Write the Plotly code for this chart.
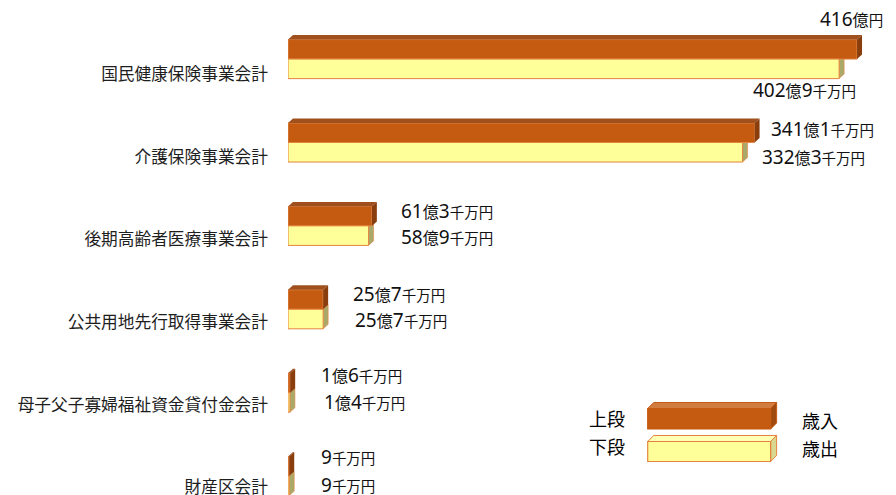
import plotly.graph_objects as go

# ---- data (億円) ----
categories = ["国民健康保険事業会計", "介護保険事業会計", "後期高齢者医療事業会計",
              "公共用地先行取得事業会計", "母子父子寡婦福祉資金貸付金会計", "財産区会計"]
revenue = [416.0, 341.1, 61.3, 25.7, 1.6, 0.9]      # 歳入 (上段)
expenditure = [402.9, 332.3, 58.9, 25.7, 1.4, 0.9]  # 歳出 (下段)
legend_pos = ["上段", "下段"]
legend_names = ["歳入", "歳出"]

# ---- style ----
OFF = 8                      # page body margin
W, H = 896 - OFF, 495 - OFF
ML = 287.5 - OFF
PX_PER_UNIT_X = 1.369
UNIT_Y = 83.4
Y0_PX = 59.1 - OFF
BAR_H = 0.234
DX = 5 / PX_PER_UNIT_X      # depth in x data units
DY = 4.5 / UNIT_Y           # depth in y data units

ORANGE = "#C55A11"
ORANGE_LINE = "#E4884A"
ORANGE_TOP = "#A0501C"
ORANGE_SIDE = "#8A3E0E"
YELLOW = "#FFFF99"
YELLOW_LINE = "#E5843F"
YELLOW_SIDE = "#A9AA6A"
TEXT = "#111111"
FONT = "Noto Sans, Noto Sans CJK JP"

idx = list(range(len(categories)))

fig = go.Figure()
fig.add_trace(go.Bar(
    y=idx, x=revenue, orientation="h", width=BAR_H, offset=-BAR_H,
    marker=dict(color=ORANGE, line=dict(color=ORANGE_LINE, width=1)),
    name="歳入", hoverinfo="x"))
fig.add_trace(go.Bar(
    y=idx, x=expenditure, orientation="h", width=BAR_H, offset=0,
    marker=dict(color=YELLOW, line=dict(color=YELLOW_LINE, width=1)),
    name="歳出", hoverinfo="x"))

shapes = []
for i, (r, e) in enumerate(zip(revenue, expenditure)):
    # yellow side face (under traces)
    yt, yb = i, i + BAR_H
    shapes.append(dict(type="path", xref="x", yref="y", layer="below",
        path=f"M{e},{yt} L{e+DX},{yt-DY} L{e+DX},{yb-DY} L{e},{yb} Z",
        fillcolor=YELLOW_SIDE, line=dict(color=YELLOW_LINE, width=0.6)))
    # orange top + side
    yt, yb = i - BAR_H, i
    shapes.append(dict(type="path", xref="x", yref="y", layer="above",
        path=f"M0,{yt} L{DX},{yt-DY} L{r+DX},{yt-DY} L{r},{yt} Z",
        fillcolor=ORANGE_TOP, line=dict(width=0)))
    shapes.append(dict(type="path", xref="x", yref="y", layer="above",
        path=f"M{r},{yt} L{r+DX},{yt-DY} L{r+DX},{yb-DY} L{r},{yb} Z",
        fillcolor=ORANGE_SIDE, line=dict(width=0)))


def fmt(v):
    oku = int(v)
    sen = int(round((v - oku) * 10))
    s = ""
    if oku > 0:
        s += f"{oku}<span style='font-size:16px'>億</span>"
    if sen > 0:
        s += f"{sen}<span style='font-size:14.5px'>千万円</span>"
    else:
        s += "<span style='font-size:14.5px'>円</span>"
    return s


annotations = []
# offsets (px) per category for labels
rev_xshift = [28, 14, 27, 28, 29, 30]
exp_xshift = [19, 17, 30, 30, 32, 30]
rev_yshift = [30, 4, 5, 6, 8, 9]
exp_yshift = [-21, -5, -1, -1, 0, 1]
for i, (r, e) in enumerate(zip(revenue, expenditure)):
    annotations.append(dict(
        x=r, y=i - BAR_H / 2, xref="x", yref="y", text=fmt(r), showarrow=False,
        xanchor="right" if i == 0 else "left", xshift=rev_xshift[i], yshift=rev_yshift[i],
        font=dict(family=FONT, size=19, color=TEXT)))
    annotations.append(dict(
        x=e, y=i + BAR_H / 2, xref="x", yref="y", text=fmt(e), showarrow=False,
        xanchor="right" if i == 0 else "left", xshift=exp_xshift[i], yshift=exp_yshift[i],
        font=dict(family=FONT, size=19, color=TEXT)))


# ---- custom legend (paper coords; inputs are screenshot pixels) ----
def px(xp):
    return (xp - OFF - ML) / (W - ML)


def py(yp):
    return 1 - (yp - OFF) / H


box_x0, box_x1, skew = 647.5, 770.5, 6
legend_boxes = [
    (408.5, 429.0, ORANGE, "#D17D40", "#A04A10", ORANGE),
    (441.5, 461.5, YELLOW, "#FFFFB5", "#D8D890", YELLOW_LINE),
]
for (y0, y1, front, top, side, lc) in legend_boxes:
    shapes.append(dict(type="path", xref="paper", yref="paper",
        path=(f"M{px(box_x0)},{py(y0)} L{px(box_x0+skew)},{py(y0-skew)} "
              f"L{px(box_x1+skew)},{py(y0-skew)} L{px(box_x1)},{py(y0)} Z"),
        fillcolor=top, line=dict(color=lc, width=1)))
    shapes.append(dict(type="path", xref="paper", yref="paper",
        path=(f"M{px(box_x1)},{py(y0)} L{px(box_x1+skew)},{py(y0-skew)} "
              f"L{px(box_x1+skew)},{py(y1-skew)} L{px(box_x1)},{py(y1)} Z"),
        fillcolor=side, line=dict(color=lc, width=1)))
    shapes.append(dict(type="rect", xref="paper", yref="paper",
        x0=px(box_x0), x1=px(box_x1), y0=py(y1), y1=py(y0),
        fillcolor=front, line=dict(color=lc, width=1.2)))

for k, (pos_txt, name) in enumerate(zip(legend_pos, legend_names)):
    yy = [419, 447][k]
    annotations.append(dict(x=px(607), y=py(yy), xref="paper", yref="paper",
        text=pos_txt, showarrow=False, xanchor="center", yanchor="middle",
        font=dict(family=FONT, size=18, color="#000000")))
    annotations.append(dict(x=px(820), y=py(yy + 2), xref="paper", yref="paper",
        text=name, showarrow=False, xanchor="center", yanchor="middle",
        font=dict(family=FONT, size=18, color="#000000")))

y_top = -Y0_PX / UNIT_Y
y_bot = y_top + H / UNIT_Y

fig.update_layout(
    width=W, height=H,
    margin=dict(l=ML, r=0, t=0, b=0),
    paper_bgcolor="white", plot_bgcolor="white",
    showlegend=False, barmode="overlay",
    shapes=shapes, annotations=annotations,
    xaxis=dict(range=[0, (W - ML) / PX_PER_UNIT_X], visible=False, fixedrange=True,
               automargin=False),
    yaxis=dict(range=[y_bot, y_top], tickmode="array",
               tickvals=[i + 0.18 - 0.009 * i for i in idx], ticktext=categories,
               showgrid=False, zeroline=False, showline=False, ticks="",
               ticklabelstandoff=19, ticklabeloverflow="allow", automargin=False,
               tickfont=dict(family="Noto Sans CJK JP", size=16.7, color="#1E1E1E"),
               fixedrange=True),
)

fig.write_html("out.html")
